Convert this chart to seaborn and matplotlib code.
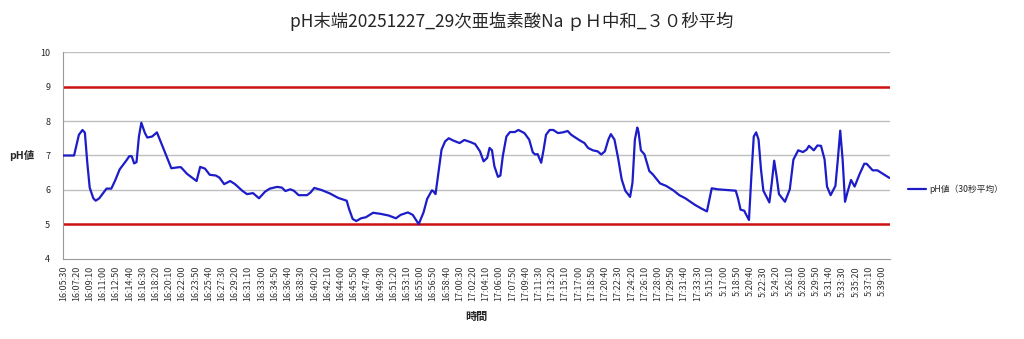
import matplotlib
matplotlib.use("Agg")
import matplotlib.pyplot as plt
import seaborn as sns
import pandas as pd
import numpy as np
from matplotlib.ticker import FixedLocator, MultipleLocator

# ---- data (sample index = one reading every 10 s) ----
sample_idx = [0, 9, 13, 16, 18, 20, 22, 25, 27, 30, 36, 40, 43, 47, 52, 55, 57, 59, 61, 63,
              65, 68, 70, 74, 78, 81, 85, 90, 96, 98, 103, 111, 114, 118, 122, 127, 130, 134, 139, 143,
              149, 153, 158, 163, 168, 172, 178, 182, 185, 189, 192, 196, 203, 206, 209, 215, 222, 229, 236, 238,
              241, 244, 248, 252, 258, 264, 271, 277, 281, 287, 291, 296, 300, 303, 307, 308, 310, 312, 315, 318,
              321, 325, 330, 334, 339, 343, 347, 350, 353, 355, 357, 359, 362, 364, 366, 369, 372, 376, 379, 384,
              388, 391, 393, 395, 398, 400, 402, 405, 408, 412, 416, 420, 423, 430, 434, 437, 441, 445, 448, 451,
              454, 456, 459, 462, 465, 468, 472, 474, 476, 478, 479, 481, 484, 488, 491, 497, 502, 508, 513, 518,
              526, 531, 536, 540, 545, 553, 560, 562, 564, 567, 571, 573, 575, 577, 579, 581, 583, 588, 590, 592,
              594, 596, 601, 605, 608, 612, 616, 619, 621, 625, 628, 631, 634, 636, 639, 643, 645, 647, 649, 651,
              653, 656, 659, 663, 667, 669, 674, 678, 682, 688]
ph_values = [7.00, 7.00, 7.60, 7.74, 7.66, 6.79, 6.07, 5.76, 5.69, 5.76, 6.04, 6.04, 6.26, 6.60, 6.83, 6.98, 6.98, 6.77, 6.81, 7.55,
             7.95, 7.65, 7.52, 7.55, 7.67, 7.41, 7.07, 6.63, 6.66, 6.66, 6.47, 6.26, 6.67, 6.62, 6.44, 6.42, 6.36, 6.17, 6.26, 6.17,
             5.98, 5.88, 5.91, 5.76, 5.95, 6.04, 6.09, 6.07, 5.97, 6.02, 5.98, 5.85, 5.85, 5.93, 6.06, 6.00, 5.90, 5.77, 5.69, 5.45,
             5.16, 5.10, 5.18, 5.21, 5.34, 5.31, 5.26, 5.18, 5.28, 5.35, 5.28, 5.01, 5.35, 5.74, 5.99, 5.97, 5.88, 6.40, 7.17, 7.41,
             7.50, 7.43, 7.36, 7.45, 7.39, 7.33, 7.12, 6.83, 6.93, 7.22, 7.15, 6.69, 6.38, 6.42, 6.98, 7.55, 7.68, 7.68, 7.74, 7.65,
             7.46, 7.09, 7.03, 7.04, 6.79, 7.17, 7.60, 7.74, 7.74, 7.65, 7.67, 7.71, 7.60, 7.44, 7.36, 7.22, 7.15, 7.12, 7.03, 7.12,
             7.47, 7.62, 7.46, 6.93, 6.31, 5.98, 5.80, 6.21, 7.46, 7.81, 7.69, 7.15, 7.03, 6.55, 6.45, 6.19, 6.12, 5.99, 5.85, 5.76,
             5.57, 5.47, 5.38, 6.05, 6.02, 6.00, 5.98, 5.74, 5.43, 5.40, 5.13, 6.40, 7.55, 7.67, 7.46, 6.60, 5.98, 5.64, 6.21, 6.85,
             6.40, 5.88, 5.66, 6.02, 6.88, 7.15, 7.10, 7.17, 7.28, 7.15, 7.29, 7.28, 6.88, 6.10, 5.85, 6.12, 6.88, 7.72, 6.88, 5.66,
             5.93, 6.29, 6.10, 6.45, 6.76, 6.76, 6.57, 6.57, 6.48, 6.35]

tick_labels = ["16:05:30", "16:07:20", "16:09:10", "16:11:00", "16:12:50", "16:14:40", "16:16:30", "16:18:20",
               "16:20:10", "16:22:00", "16:23:50", "16:25:40", "16:27:30", "16:29:20", "16:31:10", "16:33:00",
               "16:34:50", "16:36:40", "16:38:30", "16:40:20", "16:42:10", "16:44:00", "16:45:50", "16:47:40",
               "16:49:30", "16:51:20", "16:53:10", "16:55:00", "16:56:50", "16:58:40", "17:00:30", "17:02:20",
               "17:04:10", "17:06:00", "17:07:50", "17:09:40", "17:11:30", "17:13:20", "17:15:10", "17:17:00",
               "17:18:50", "17:20:40", "17:22:30", "17:24:20", "17:26:10", "17:28:00", "17:29:50", "17:31:40",
               "17:33:30", "5:15:10", "5:17:00", "5:18:50", "5:20:40", "5:22:30", "5:24:20", "5:26:10",
               "5:28:00", "5:29:50", "5:31:40", "5:33:30", "5:35:20", "5:37:10", "5:39:00"]
label_step = 11          # one label every 11 readings
limit_values = [5, 9]    # red limit lines
series_name = "pH値（30秒平均）"
title = "pH末端20251227_29次亜塩素酸Na ｐＨ中和_３０秒平均"

# ---- plotting ----
sns.set_style("white")
plt.rcParams['font.family'] = ['Noto Sans CJK JP', 'DejaVu Sans']

df = pd.DataFrame({"idx": sample_idx, "ph": ph_values})

fig = plt.figure(figsize=(10.24, 3.39), dpi=100)
ax = fig.add_axes([0.0612, 0.236, 0.8080, 0.6106])

grid_c = "#bfbfbf"
for v in [6, 7, 8, 10]:
    ax.axhline(v, color=grid_c, lw=1.0, zorder=1)
for v in limit_values:
    ax.axhline(v, color="#cc1111", lw=1.8, zorder=2)

sns.lineplot(data=df, x="idx", y="ph", ax=ax, color="#1c1cc8", lw=1.6,
             label=series_name, zorder=3)

ax.set_ylim(4, 10)
ax.set_xlim(-0.5, 688.5)
ax.set_yticks([4, 5, 6, 7, 8, 9, 10])
ax.set_yticklabels(["4", "5", "6", "7", "8", "9", "10"], fontsize=6.5)
pos = [i * label_step for i in range(len(tick_labels))]
ax.xaxis.set_major_locator(FixedLocator(pos))
ax.set_xticklabels(tick_labels, rotation=90, fontsize=6.5, color="#333333")
ax.xaxis.set_minor_locator(MultipleLocator(1))
ax.tick_params(axis="x", which="major", length=3, color="#999999", pad=2)
ax.tick_params(axis="x", which="minor", length=3, color="#999999", width=0.5)
ax.tick_params(axis="y", which="major", length=3, color="#999999", pad=6)

for s in ["top", "right"]:
    ax.spines[s].set_visible(False)
ax.spines["left"].set_color("#999999")
ax.spines["bottom"].set_color("#999999")

ax.set_xlabel("時間", fontsize=8, fontweight="bold", labelpad=6)
ax.set_ylabel("pH値", fontsize=7.5, fontweight="bold", rotation=0, va="center", ha="center")
ax.yaxis.set_label_coords(-0.05, 0.5)

fig.suptitle(title, fontsize=12.5, y=0.965)

leg = ax.legend(loc="center left", bbox_to_anchor=(1.012, 0.338), frameon=False,
                fontsize=6.3, handlelength=2.1, handletextpad=0.4)

fig.savefig("out.png", dpi=100)
